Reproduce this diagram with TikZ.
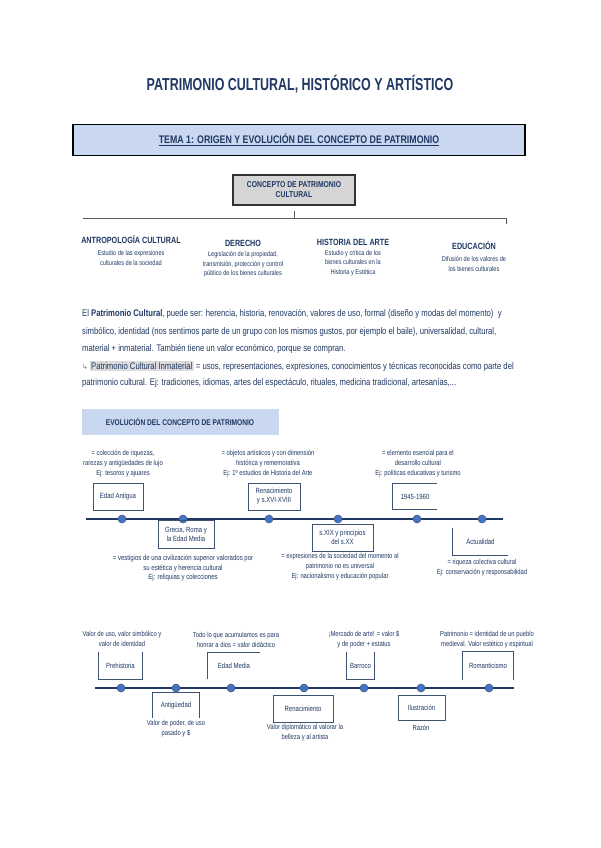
\documentclass[tikz,border=0pt]{standalone}
\usepackage{fontspec}
\setmainfont{Liberation Sans}[FakeStretch=0.8]
\newfontfamily\narrowfont{Liberation Sans}[FakeStretch=0.72]
\newfontfamily\symfont{DejaVu Sans}
\definecolor{navy}{HTML}{1F3864}
\definecolor{lblue}{HTML}{C9D8F0}
\definecolor{concgray}{HTML}{D5D5D5}
\definecolor{dotblue}{HTML}{4472C4}
\definecolor{framecol}{HTML}{3E5272}
\definecolor{hlgray}{HTML}{DCDCDC}

\begin{document}
\begin{tikzpicture}[x=1pt, y=-1pt,
    ttl/.style={text=navy, font=\narrowfont\bfseries\fontsize{17.3}{20}\selectfont},
    tema/.style={draw=black, line width=1.6pt, fill=lblue, minimum width=452, minimum height=31, text=navy, font=\bfseries\fontsize{11}{13}\selectfont},
    concept/.style={draw=black!80, line width=1.4pt, fill=concgray, minimum width=122, minimum height=30, align=center, text=navy, font=\bfseries\fontsize{8.5}{10}\selectfont},
    branch/.style={draw=black!65, line width=0.9pt},
    head/.style={text=navy, font=\bfseries\fontsize{9}{10}\selectfont, inner sep=0},
    desc/.style={align=center, text=navy, font=\fontsize{7}{9.5}\selectfont, inner sep=0},
    para/.style={anchor=west, text=navy, font=\fontsize{9.6}{11}\selectfont, inner sep=0},
    evol/.style={fill=lblue, minimum width=197, minimum height=26, text=navy, font=\bfseries\fontsize{8.3}{10}\selectfont},
    tline/.style={draw=navy, line width=2.2pt},
    dot/.style={circle, fill=dotblue, draw=navy!80, line width=0.6pt, inner sep=0, minimum size=8},
    period/.style={align=center, text=navy, font=\fontsize{7.5}{9}\selectfont, inner sep=0},
    frame/.style={draw=framecol, line width=0.9pt},
    note/.style={align=center, text=navy, font=\fontsize{7.3}{10}\selectfont, inner sep=0}
]
\useasboundingbox (0,0) rectangle (600,848);
\fill[white] (0,0) rectangle (600,848);

% cabecera
\node[ttl] (title) at (300,84) {PATRIMONIO CULTURAL, HISTÓRICO Y ARTÍSTICO};
\node[tema] (tema) at (299,140) {\underline{TEMA 1: ORIGEN Y EVOLUCIÓN DEL CONCEPTO DE PATRIMONIO}};

% concepto y ramas
\node[concept] (concepto) at (294,190) {CONCEPTO DE PATRIMONIO\\CULTURAL};
\coordinate (stem) at (294,211);
\coordinate (bm) at (294,218);
\coordinate (bl) at (83,218);
\coordinate (br) at (506,218);
\coordinate (brt) at (506,224);
\draw[branch] (stem) -- (bm);
\draw[branch] (bl) -- (br) -- (brt);

\node[head] (antro) at (131,240) {ANTROPOLOGÍA CULTURAL};
\node[head] (derecho) at (243,243) {DERECHO};
\node[head] (histarte) at (353,242) {HISTORIA DEL ARTE};
\node[head] (educ) at (474,246) {EDUCACIÓN};
\node[desc] (antrod) at (131,258) {Estudio de las expresiones\\culturales de la sociedad};
\node[desc] (derechod) at (243,264.5) {Legislación de la propiedad,\\transmisión, protección y control\\público de los bienes culturales};
\node[desc] (histarted) at (353,263) {Estudio y crítica de los\\bienes culturales en la\\Historia y Estética};
\node[desc] (educd) at (474,264) {Difusión de los valores de\\los bienes culturales};

% texto
\node[para] (p1) at (82,314) {El \textbf{Patrimonio Cultural}, puede ser: herencia, historia, renovación, valores de uso, formal (diseño y modas del momento)\ \ y};
\node[para] (p2) at (82,332) {simbólico, identidad (nos sentimos parte de un grupo con los mismos gustos, por ejemplo el baile), universalidad, cultural,};
\node[para] (p3) at (82,349) {material + inmaterial. También tiene un valor económico, porque se compran.};
\node[para] (p4) at (82,366) {{\color{gray}\symfont\fontsize{7}{8}\selectfont ↳}\,{\setlength\fboxsep{1.5pt}\colorbox{hlgray}{Patrimonio Cultural Inmaterial}} = usos, representaciones, expresiones, conocimientos y técnicas reconocidas como parte del};
\node[para] (p5) at (82,383) {patrimonio cultural. Ej: tradiciones, idiomas, artes del espectáculo, rituales, medicina tradicional, artesanías,...};

\node[evol] (evol) at (180,422) {EVOLUCIÓN DEL CONCEPTO DE PATRIMONIO};

% primera linea del tiempo
\coordinate (a1) at (86,519);
\coordinate (b1) at (503,519);
\draw[tline] (a1) -- (b1);
\foreach \x/\n in {122/d1, 183/d2, 269/d3, 338/d4, 417/d5, 482/d6}
    \node[dot] (\n) at (\x,519) {};

\node[period, frame, minimum width=50, minimum height=27] (antigua) at (118,496.5) {Edad Antigua};
\node[period, frame, minimum width=56, minimum height=28] (grecia) at (186,534) {Grecia, Roma y\\la Edad Media};
\node[period, frame, minimum width=52, minimum height=27] (renac) at (274,496.5) {Renacimiento\\y s.XVI-XVIII};
\node[period, frame, minimum width=61, minimum height=27] (sxix) at (342.5,537.5) {s.XIX y principios\\del s.XX};
\node[period, minimum width=44, minimum height=26] (f4560) at (415,496.5) {1945-1960};
\draw[frame] (f4560.north east) -- (f4560.north west) -- (f4560.south west) -- (f4560.south east);
\node[period, minimum width=55, minimum height=27] (actual) at (480.5,541.5) {Actualidad};
\draw[frame] (actual.north west) -- (actual.south west) -- (actual.south east);

\node[note] (antiguan) at (123,463.5) {= colección de riquezas,\\rarezas y antigüedades de lujo\\Ej: tesoros y ajuares};
\node[note, font=\fontsize{7.5}{9.5}\selectfont] (grecian) at (183,568.5) {= vestigios de una civilización superior valorados por\\su estética y herencia cultural\\Ej: reliquias y colecciones};
\node[note] (renacn) at (268,463.5) {= objetos artísticos y con dimensión\\histórica y rememorativa\\Ej: 1º estudios de Historia del Arte};
\node[note] (sxixn) at (340,567) {= expresiones de la sociedad del momento al\\patrimonio no es universal\\Ej: nacionalismo y educación popular};
\node[note] (f4560n) at (418,463.5) {= elemento esencial para el\\desarrollo cultural\\Ej: políticas educativas y turismo};
\node[note] (actualn) at (482,567.5) {= riqueza colectiva cultural\\Ej: conservación y responsabilidad};

% segunda linea del tiempo
\coordinate (a2) at (95,688);
\coordinate (b2) at (514,688);
\draw[tline] (a2) -- (b2);
\foreach \x/\n in {121/e1, 176/e2, 231/e3, 304/e4, 364/e5, 421/e6, 489/e7}
    \node[dot] (\n) at (\x,688) {};

\node[period, minimum width=43, minimum height=27] (prehist) at (120.5,666) {Prehistoria};
\draw[frame] (prehist.north west) -- (prehist.south west) -- (prehist.south east) -- (prehist.north east);
\node[period, minimum width=46, minimum height=25] (antig) at (176,705.5) {Antigüedad};
\draw[frame] (antig.south west) -- (antig.north west) -- (antig.north east) -- (antig.south east);
\node[period, minimum width=52, minimum height=26] (edmedia) at (234,666) {Edad Media};
\draw[frame] (edmedia.south west) -- (edmedia.north west) -- (edmedia.north east);
\node[period, frame, minimum width=60, minimum height=27] (renac2) at (303,708.5) {Renacimiento};
\node[period, minimum width=27, minimum height=27] (barroco) at (360.5,666) {Barroco};
\draw[frame] (barroco.north west) -- (barroco.south west) -- (barroco.south east) -- (barroco.north east);
\node[period, frame, minimum width=47, minimum height=25] (ilust) at (421.5,708) {Ilustración};
\node[period, minimum width=50, minimum height=28] (romant) at (488,666) {Romanticismo};
\draw[frame] (romant.south west) -- (romant.north west) -- (romant.north east) -- (romant.south east);

\node[note] (prehistn) at (122,639) {Valor de uso, valor simbólico y\\valor de identidad};
\node[note] (antign) at (176,728.5) {Valor de poder, de uso\\pasado y \$};
\node[note] (edmedian) at (236,640) {Todo lo que acumulamos es para\\honrar a dios = valor didáctico};
\node[note] (renac2n) at (305,732.5) {Valor diplomático al valorar la\\belleza y al artista};
\node[note] (barrocon) at (364,640) {¡Mercado de arte! = valor \$\\y de poder + estatus};
\node[note] (ilustn) at (421,728) {Razón};
\node[note] (romantn) at (487,639.5) {Patrimonio = identidad de un pueblo\\medieval. Valor estético y espiritual};
\end{tikzpicture}
\end{document}
